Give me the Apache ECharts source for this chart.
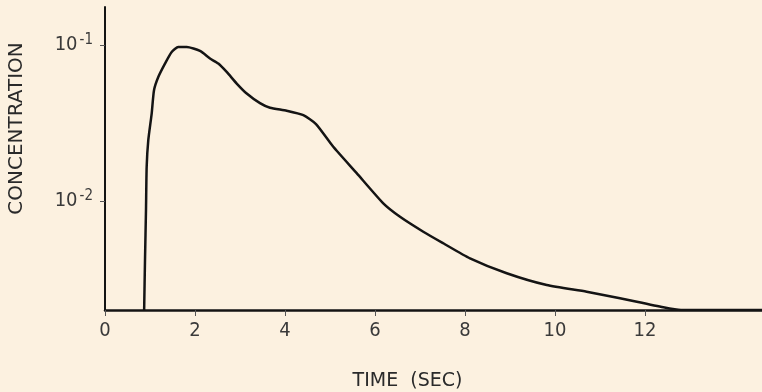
<!DOCTYPE html>
<html>
<head>
<meta charset="utf-8">
<script src="https://cdn.jsdelivr.net/npm/echarts@6/dist/echarts.min.js"></script>
<style>
  html, body { margin: 0; padding: 0; background: #fcf1e0; }
  #chart { width: 762px; height: 392px; }
</style>
</head>
<body>
<div id="chart"></div>
<script>
// time in seconds, concentration (log scale)
const times = [0.87, 0.889, 0.911, 0.926, 0.962, 1.038, 1.089, 1.184, 1.333, 1.482, 1.629, 1.816,
  2.111, 2.333, 2.518, 2.704, 2.927, 3.149, 3.444, 3.667, 4.038, 4.407, 4.689, 5.073, 5.593,
  6.184, 6.556, 7.073, 7.518, 8.111, 8.927, 9.816, 10.704, 11.444, 12.407, 12.8, 14.6];
const concentration = [0.002, 0.0042, 0.0088, 0.0166, 0.0246, 0.0366, 0.0515, 0.0626, 0.0763, 0.0906, 0.0975, 0.0975,
  0.0919, 0.0822, 0.0763, 0.0674, 0.0568, 0.049, 0.0425, 0.0397, 0.038, 0.0356, 0.0312, 0.0223, 0.0151,
  0.00967, 0.00793, 0.00636, 0.00536, 0.00429, 0.00344, 0.00289, 0.00262, 0.00238, 0.00208, 0.002, 0.002];
const xTicks = [0, 2, 4, 6, 8, 10, 12];
const yTicks = [0.01, 0.1];
const yTickText = { '0.01': '-2', '0.1': '-1' };

const chart = echarts.init(document.getElementById('chart'));

const labelFont = "'Liberation Sans Narrow', 'DejaVu Sans Condensed', sans-serif";
const ink = '#141414';

chart.setOption({
  backgroundColor: '#fcf1e0',
  animation: false,
  grid: { left: 105, right: 0, top: 7, bottom: 82, outerBoundsMode: 'none' },
  xAxis: {
    type: 'value',
    min: 0,
    max: 14.6,
    name: 'TIME  (SEC)',
    nameLocation: 'middle',
    nameGap: 62,
    nameTextStyle: { fontFamily: 'DejaVu Sans', fontSize: 19, color: '#2a2a2a', padding: [0, 52, 0, 0] },
    splitLine: { show: false },
    axisLine: { lineStyle: { color: ink, width: 2.5 } },
    axisTick: { customValues: xTicks, length: 6, lineStyle: { color: '#555', width: 1 } },
    axisLabel: {
      customValues: xTicks,
      margin: 11,
      fontFamily: labelFont,
      fontSize: 20,
      color: '#3a3a3a'
    }
  },
  yAxis: {
    type: 'log',
    min: 0.002,
    max: 0.176,
    name: 'CONCENTRATION',
    nameLocation: 'middle',
    nameGap: 78,
    nameTextStyle: { fontFamily: 'DejaVu Sans', fontSize: 20, color: '#2a2a2a', padding: [0, 0, 0, 60] },
    splitLine: { show: false },
    axisLine: { lineStyle: { color: ink, width: 2 } },
    axisTick: { customValues: yTicks, length: 5, lineStyle: { color: '#555', width: 1 } },
    axisLabel: {
      customValues: yTicks,
      margin: 12,
      padding: [0, 0, 10, 0],
      formatter: function (v) {
        const key = String(+v.toPrecision(3));
        return '{b|10}{s|' + (yTickText[key] || '') + '}';
      },
      rich: {
        b: { fontFamily: labelFont, fontSize: 20, color: '#3a3a3a', lineHeight: 22, padding: [10, 0, 0, 0] },
        s: { fontFamily: labelFont, fontSize: 15, color: '#3a3a3a', lineHeight: 22, padding: [0, 0, 0, 2] }
      }
    }
  },
  series: [{
    type: 'line',
    data: times.map((t, i) => [t, concentration[i]]),
    symbol: 'none',
    smooth: 0.2,
    lineStyle: { color: ink, width: 2.5 }
  }]
});
</script>
</body>
</html>
